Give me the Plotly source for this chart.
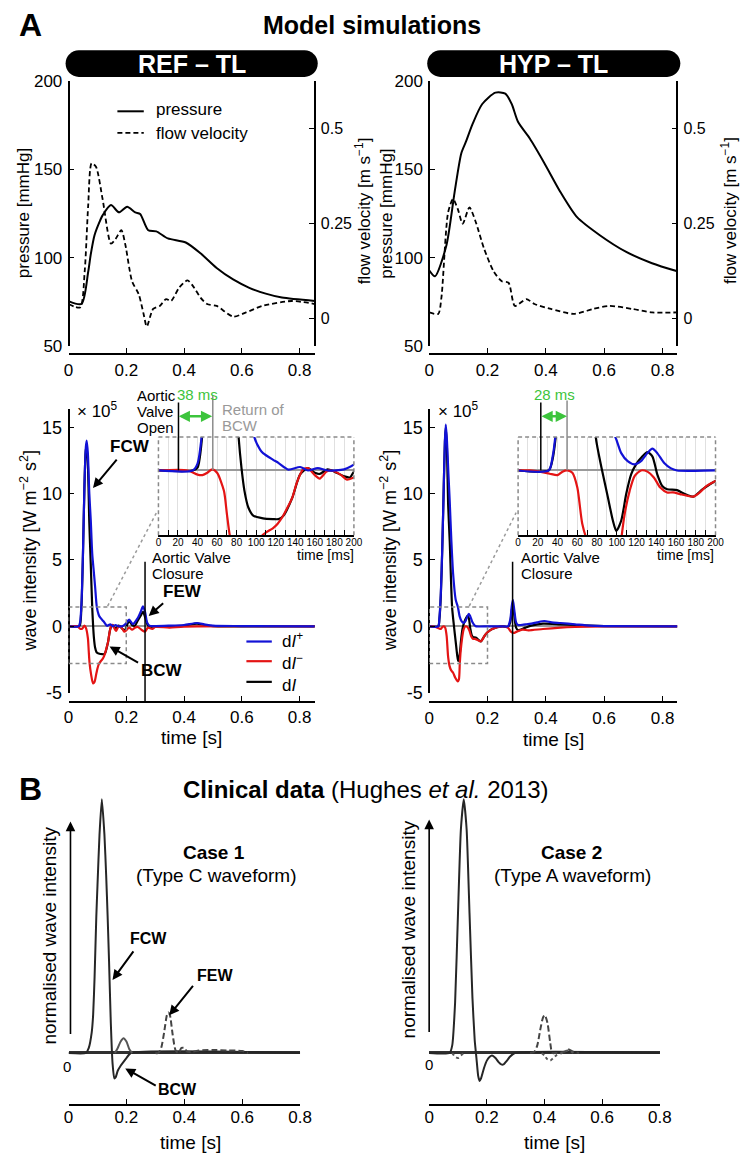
import plotly.graph_objects as go

W, H = 750, 1166
def px(x): return x / W
def py(y): return 1 - y / H

FONT = "Liberation Sans, Arial, Helvetica, sans-serif"
BLUE = "#1212d6"
RED = "#e41414"
BLACK = "#000000"
GREEN = "#3cc43c"
GRAY = "#999999"

# ---------------- Panel A, top: pressure / flow velocity ----------------
ref_p_t = [0, 0.045, 0.068, 0.077, 0.09, 0.107, 0.118, 0.147, 0.175, 0.203, 0.231, 0.248, 0.276, 0.304, 0.344, 0.406, 0.457, 0.513, 0.57, 0.626, 0.683, 0.739, 0.853]
ref_p = [75.6, 74, 92, 102, 112.8, 120.2, 124, 129.8, 125.7, 128.9, 125.7, 124.8, 115.6, 115, 111, 108.7, 102.6, 94.3, 87.8, 83.1, 79.8, 77.6, 75.7]
ref_v_t = [0, 0.04, 0.056, 0.068, 0.08, 0.095, 0.118, 0.147, 0.163, 0.183, 0.197, 0.22, 0.243, 0.26, 0.271, 0.293, 0.316, 0.338, 0.355, 0.383, 0.412, 0.435, 0.457, 0.48, 0.513, 0.57, 0.615, 0.671, 0.773, 0.853]
ref_v = [0.039, 0.03, 0.125, 0.297, 0.409, 0.40, 0.315, 0.198, 0.21, 0.233, 0.194, 0.099, 0.065, 0.013, -0.02, 0.026, 0.034, 0.052, 0.047, 0.082, 0.101, 0.082, 0.056, 0.039, 0.034, 0.006, 0.017, 0.034, 0.047, 0.039]

hyp_p_t = [0, 0.02, 0.059, 0.087, 0.11, 0.126, 0.149, 0.182, 0.227, 0.261, 0.283, 0.305, 0.345, 0.395, 0.451, 0.507, 0.585, 0.674, 0.764, 0.851]
hyp_p = [93, 89.6, 107, 136.9, 159, 165.6, 175.7, 186.9, 193.3, 192.8, 186.9, 176.7, 167.4, 153.5, 136.9, 123, 112.8, 103.5, 97, 92.4]
hyp_v_t = [0, 0.031, 0.042, 0.065, 0.082, 0.098, 0.115, 0.138, 0.16, 0.188, 0.221, 0.249, 0.272, 0.294, 0.333, 0.361, 0.417, 0.496, 0.562, 0.618, 0.697, 0.764, 0.851]
hyp_v = [0.017, 0.013, 0.056, 0.28, 0.315, 0.289, 0.25, 0.293, 0.254, 0.185, 0.125, 0.099, 0.095, 0.034, 0.052, 0.039, 0.026, 0.013, 0.026, 0.034, 0.026, 0.017, 0.017]

# ---------------- Panel A, wave intensity (x 10^5 W m^-2 s^2) ----------------
ref_dip_t = [0, 0.035, 0.04, 0.045, 0.05, 0.055, 0.06, 0.063, 0.067, 0.072, 0.077, 0.082, 0.088, 0.092, 0.098, 0.104, 0.107, 0.117, 0.123, 0.133, 0.145, 0.153, 0.163, 0.173, 0.19, 0.198, 0.21, 0.223, 0.239, 0.25, 0.258, 0.265, 0.272, 0.28, 0.3, 0.35, 0.4, 0.445, 0.47, 0.5, 0.6, 0.853]
ref_dip = [0, 0, 0.3, 1.8, 5.5, 10.5, 13.5, 14.0, 13.0, 10.0, 8.0, 5.5, 4.0, 3.0, 1.45, 0.9, 0.75, 0.47, 0.32, 0.04, 0.15, 0.0, 0.1, 0.0, 0.05, 0.2, 0.5, 0.17, 0.6, 1.1, 1.5, 1.1, 0.3, 0.05, 0.02, 0.05, 0.1, 0.25, 0.15, 0.05, 0.02, 0.0]
ref_dim_t = [0, 0.03, 0.04, 0.045, 0.05, 0.055, 0.06, 0.067, 0.07, 0.073, 0.078, 0.085, 0.09, 0.096, 0.1, 0.105, 0.111, 0.117, 0.122, 0.127, 0.132, 0.137, 0.141, 0.145, 0.148, 0.153, 0.16, 0.165, 0.172, 0.177, 0.187, 0.193, 0.2, 0.21, 0.22, 0.23, 0.24, 0.255, 0.265, 0.275, 0.29, 0.3, 0.35, 0.4, 0.853]
ref_dim = [0, 0, -0.18, -0.2, -0.1, 0.05, -0.1, -0.88, -1.86, -2.8, -3.6, -4.3, -4.2, -3.6, -3.2, -2.85, -2.65, -2.5, -2.3, -2.0, -1.6, -1.17, -0.6, -0.17, 0.05, 0.1, -0.2, -0.35, -0.05, 0.0, -0.2, -0.4, -0.3, -0.1, -0.25, -0.1, -0.05, -0.3, -0.4, -0.1, -0.2, -0.05, -0.1, -0.02, 0]
ref_di_t = [0, 0.035, 0.04, 0.045, 0.05, 0.055, 0.06, 0.063, 0.067, 0.072, 0.077, 0.082, 0.085, 0.088, 0.092, 0.097, 0.107, 0.117, 0.123, 0.128, 0.137, 0.145, 0.153, 0.16, 0.165, 0.173, 0.18, 0.19, 0.196, 0.2, 0.21, 0.22, 0.23, 0.24, 0.25, 0.258, 0.265, 0.272, 0.28, 0.3, 0.35, 0.4, 0.445, 0.47, 0.5, 0.853]
ref_di = [0, 0, 0.12, 1.6, 5.4, 10.4, 13.3, 13.5, 12.2, 7.8, 4.7, 1.45, 0.1, -0.88, -1.6, -1.95, -2.07, -2.1, -2.1, -1.95, -1.17, -0.17, 0.1, -0.1, -0.15, 0.05, -0.05, -0.25, -0.3, -0.05, 0.4, 0.1, 0.05, 0.45, 0.8, 1.1, 0.7, 0.2, -0.05, 0.0, 0.0, 0.05, 0.2, 0.1, 0.02, 0]

hyp_dip_t = [0, 0.031, 0.035, 0.04, 0.045, 0.05, 0.054, 0.057, 0.061, 0.066, 0.0705, 0.076, 0.082, 0.091, 0.0985, 0.1045, 0.111, 0.118, 0.1245, 0.131, 0.136, 0.141, 0.148, 0.1545, 0.161, 0.2, 0.25, 0.27, 0.278, 0.283, 0.287, 0.292, 0.298, 0.305, 0.33, 0.35, 0.37, 0.395, 0.42, 0.45, 0.5, 0.55, 0.6, 0.851]
hyp_dip = [0, 0, 0.6, 2.5, 6.0, 10.5, 14.0, 15.2, 14.0, 11.5, 9.4, 6.5, 4.0, 2.0, 1.45, 0.75, 0.4, 0.26, 0.4, 0.75, 0.94, 0.75, 0.32, 0.1, 0.0, 0.0, 0.0, 0.0, 0.5, 1.5, 2.0, 1.2, 0.3, 0.1, 0.15, 0.2, 0.3, 0.4, 0.3, 0.25, 0.15, 0.05, 0.02, 0]
hyp_dim_t = [0, 0.012, 0.022, 0.032, 0.04, 0.045, 0.05, 0.055, 0.06, 0.065, 0.07, 0.075, 0.082, 0.09, 0.098, 0.102, 0.105, 0.108, 0.113, 0.118, 0.1245, 0.131, 0.1375, 0.144, 0.151, 0.157, 0.164, 0.171, 0.1775, 0.184, 0.191, 0.2, 0.216, 0.25, 0.27, 0.28, 0.29, 0.3, 0.32, 0.34, 0.39, 0.45, 0.5, 0.6, 0.851]
hyp_dim = [0, 0, -0.05, -0.14, -0.2, -0.05, 0.0, -0.1, -0.74, -2.3, -3.0, -3.3, -3.5, -3.9, -4.15, -4.0, -2.8, -1.87, -0.88, -0.24, 0.0, -0.05, -0.3, -0.74, -0.95, -0.95, -1.02, -1.09, -1.13, -0.95, -0.67, -0.45, -0.2, 0.0, -0.1, -0.4, -0.5, -0.4, -0.25, -0.3, -0.2, -0.1, -0.05, 0, 0]
hyp_di_t = [0, 0.031, 0.035, 0.04, 0.045, 0.05, 0.054, 0.057, 0.061, 0.065, 0.0705, 0.0786, 0.0846, 0.091, 0.096, 0.0995, 0.1045, 0.1095, 0.1145, 0.1195, 0.126, 0.131, 0.136, 0.141, 0.146, 0.151, 0.161, 0.169, 0.1775, 0.187, 0.2, 0.216, 0.25, 0.27, 0.278, 0.283, 0.287, 0.292, 0.298, 0.305, 0.33, 0.35, 0.39, 0.45, 0.5, 0.55, 0.6, 0.851]
hyp_di = [0, 0, 0.5, 2.3, 5.9, 10.5, 13.9, 15.0, 13.4, 9.2, 6.4, 1.45, 0.1, -1.17, -2.16, -2.61, -2.16, -1.02, -0.17, 0.26, 0.61, 0.79, 0.61, -0.17, -0.67, -0.81, -0.85, -1.02, -1.13, -0.81, -0.45, -0.2, 0.0, -0.05, 0.3, 1.2, 1.6, 0.8, -0.1, -0.3, -0.1, 0.05, 0.2, 0.15, 0.1, 0.05, 0.02, 0]

# event times [s]
ref_avo, ref_bcw_return, ref_avc = 0.0205, 0.0556, 0.265
hyp_avo, hyp_bcw_return, hyp_avc = 0.023, 0.0496, 0.286

# inset ticks (ms)
inset_tick_ms = list(range(0, 201, 10))
inset_tick_vals = [m / 1000 for m in inset_tick_ms]
inset_tick_text = [str(m) if m % 20 == 0 else "" for m in inset_tick_ms]

# ---------------- Panel B: clinical data (normalised) ----------------
c1_sol_t = [0, 0.06, 0.07, 0.08, 0.085, 0.09, 0.096, 0.1, 0.107, 0.115, 0.124, 0.13, 0.135, 0.14, 0.146, 0.152, 0.158, 0.163, 0.17, 0.18, 0.19, 0.2, 0.215, 0.8]
c1_sol = [0, 0, 0.02, 0.08, 0.15, 0.3, 0.54, 0.66, 0.86, 1.0, 0.86, 0.7, 0.54, 0.36, 0.12, -0.04, -0.1, -0.095, -0.07, -0.05, -0.035, -0.02, 0, 0]
c1_bump_t = [0.16, 0.17, 0.18, 0.19, 0.2, 0.21, 0.22]
c1_bump = [0, 0.02, 0.045, 0.058, 0.045, 0.015, 0]
c1_dash_t = [0.3, 0.31, 0.32, 0.33, 0.34, 0.345, 0.35, 0.36, 0.37, 0.38, 0.39, 0.4, 0.41, 0.43, 0.45, 0.5, 0.55, 0.6, 0.62]
c1_dash = [0, 0.0, 0.02, 0.08, 0.15, 0.16, 0.15, 0.07, 0.01, 0, 0.02, 0.02, 0.005, 0.005, 0.01, 0.012, 0.01, 0.008, 0]

c2_sol_t = [0, 0.071, 0.08, 0.09, 0.1, 0.11, 0.12, 0.13, 0.14, 0.15, 0.158, 0.164, 0.17, 0.175, 0.18, 0.19, 0.2, 0.21, 0.218, 0.23, 0.24, 0.25, 0.258, 0.27, 0.28, 0.297, 0.8]
c2_sol = [0, 0, 0.03, 0.2, 0.55, 0.88, 1.0, 0.88, 0.55, 0.22, 0.05, -0.02, -0.09, -0.11, -0.1, -0.06, -0.03, -0.015, -0.01, -0.02, -0.035, -0.045, -0.045, -0.03, -0.015, 0, 0]
c2_dash_t = [0.35, 0.365, 0.375, 0.385, 0.395, 0.401, 0.41, 0.42, 0.427, 0.44, 0.47, 0.48, 0.5, 0.52]
c2_dash = [0, 0.005, 0.03, 0.09, 0.14, 0.149, 0.12, 0.04, 0.0, 0, 0.005, 0.015, 0.005, 0]
c2_dot_t = [0.08, 0.09, 0.1, 0.11, 0.12, None, 0.39, 0.4, 0.41, 0.42, 0.43, 0.44, 0.46, 0.48, 0.5]
c2_dot = [0, -0.015, -0.02, -0.01, 0, None, 0, -0.01, -0.025, -0.03, -0.02, -0.01, 0.0, 0.01, 0]

time_ticks = [0, 0.2, 0.4, 0.6, 0.8]
time_text = ["0", "0.2", "0.4", "0.6", "0.8"]

# ---------------- figure ----------------
fig = go.Figure()

def add_line(x, y, xa, ya, color, width=2.0, dash=None, smooth=0.7):
    fig.add_trace(go.Scatter(
        x=x, y=y, xaxis=xa, yaxis=ya, mode="lines", showlegend=False,
        hoverinfo="skip", connectgaps=False,
        line=dict(color=color, width=width, dash=dash, shape="spline", smoothing=smooth)))

# top
add_line(ref_p_t, ref_p, "x", "y", BLACK, 2)
add_line(ref_v_t, ref_v, "x", "y2", BLACK, 1.8, "5px,3px")
add_line(hyp_p_t, hyp_p, "x2", "y3", BLACK, 2)
add_line(hyp_v_t, hyp_v, "x2", "y4", BLACK, 1.8, "5px,3px")

# wave intensity main + inset
for xa, ya in (("x3", "y5"), ("x4", "y6")):
    add_line(ref_di_t, ref_di, xa, ya, BLACK, 2.2)
    add_line(ref_dim_t, ref_dim, xa, ya, RED, 2.2)
    add_line(ref_dip_t, ref_dip, xa, ya, BLUE, 2.2)
for xa, ya in (("x5", "y7"), ("x6", "y8")):
    add_line(hyp_di_t, hyp_di, xa, ya, BLACK, 2.2)
    add_line(hyp_dim_t, hyp_dim, xa, ya, RED, 2.2)
    add_line(hyp_dip_t, hyp_dip, xa, ya, BLUE, 2.2)

# clinical
CL = "#262626"
add_line(c1_sol_t, c1_sol, "x7", "y9", CL, 2, None, 0.5)
add_line(c1_bump_t, c1_bump, "x7", "y9", "#555555", 2)
add_line(c1_dash_t, c1_dash, "x7", "y9", "#444444", 2, "6px,3px")
add_line(c2_sol_t, c2_sol, "x8", "y10", CL, 2, None, 0.5)
add_line(c2_dash_t, c2_dash, "x8", "y10", "#444444", 2, "6px,3px")
add_line(c2_dot_t, c2_dot, "x8", "y10", "#555555", 2, "dot")

def xstyle(size=17, standoff=1):
    return dict(showline=True, linecolor="black", linewidth=1.6, ticks="inside",
                ticklen=5, tickwidth=1.4, tickcolor="black", showgrid=False,
                zeroline=False, tickvals=time_ticks, ticktext=time_text, tickangle=0,
                tickfont=dict(family=FONT, size=size, color="black"),
                ticklabelstandoff=standoff)

def ystyle(size=17):
    return dict(showline=True, linecolor="black", linewidth=1.6, ticks="inside",
                ticklen=5, tickwidth=1.4, tickcolor="black", showgrid=False,
                zeroline=False, tickfont=dict(family=FONT, size=size, color="black"),
                ticklabelstandoff=2)

def inset_x(domain, anchor):
    return dict(domain=domain, range=[0, 0.2], anchor=anchor, showline=True,
                linecolor="black", linewidth=1.6, ticks="inside", ticklen=5,
                tickwidth=1.4, tickcolor="black", tickvals=inset_tick_vals,
                ticktext=inset_tick_text, tickangle=0, showgrid=True, gridcolor="#e0e0e0",
                gridwidth=1.4, zeroline=False,
                tickfont=dict(family=FONT, size=10, color="black"), ticklabelstandoff=-3)

def inset_y(domain, anchor):
    return dict(domain=domain, range=[-2.8, 1.45], anchor=anchor, showline=False,
                showticklabels=False, ticks="", showgrid=False, zeroline=True,
                zerolinecolor="#9a9a9a", zerolinewidth=2)

def hidden_y(domain, pos):
    return dict(domain=domain, range=[-0.15, 1.09], anchor="free", position=pos,
                showline=False, showticklabels=False, ticks="", showgrid=False,
                zeroline=True, zerolinecolor="#303030", zerolinewidth=3)

wi_ticks = [-5, 0, 5, 10, 15]
wi_text = ["-5", "0", "5", "10", "15"]

top_dom_y = [py(343), py(73)]
mid_dom_y = [py(695), py(407)]

layout = dict(
    width=W, height=H, margin=dict(l=0, r=0, t=0, b=0),
    paper_bgcolor="white", plot_bgcolor="rgba(0,0,0,0)",
    font=dict(family=FONT, color="black"), showlegend=False,
    # top-left
    xaxis=dict(domain=[px(65), px(317)], range=[0, 0.853], anchor="free", position=py(351), **xstyle(17, 1)),
    yaxis=dict(domain=top_dom_y, range=[50, 200], anchor="free", position=px(65),
               tickvals=[50, 100, 150, 200], **ystyle(17)),
    yaxis2=dict(overlaying="y", side="right", anchor="free", position=px(317),
                range=[-0.0724, 0.6258], tickvals=[0, 0.25, 0.5], ticktext=["0", "0.25", "0.5"],
                **ystyle(16)),
    # top-right
    xaxis2=dict(domain=[px(434), px(688)], range=[0, 0.851], anchor="free", position=py(351), **xstyle(17, 1)),
    yaxis3=dict(domain=top_dom_y, range=[50, 200], anchor="free", position=px(434),
                tickvals=[50, 100, 150, 200], **ystyle(17)),
    yaxis4=dict(overlaying="y3", side="right", anchor="free", position=px(688),
                range=[-0.0724, 0.6258], tickvals=[0, 0.25, 0.5], ticktext=["0", "0.25", "0.5"],
                **ystyle(16)),
    # mid-left
    xaxis3=dict(domain=[px(65), px(317)], range=[0, 0.853], anchor="free", position=py(704), **xstyle(17, 0)),
    yaxis5=dict(domain=mid_dom_y, range=[-5, 16.35], anchor="free", position=px(65),
                **{**ystyle(18), "tickvals": wi_ticks, "ticktext": wi_text,
                   "zeroline": True, "zerolinecolor": "#9a9a9a", "zerolinewidth": 2}),
    xaxis4=inset_x([px(157), px(357)], "y6"),
    yaxis6=inset_y([py(535), py(435)], "x4"),
    # mid-right
    xaxis5=dict(domain=[px(434), px(688)], range=[0, 0.851], anchor="free", position=py(704), **xstyle(17, 1)),
    yaxis7=dict(domain=mid_dom_y, range=[-5, 16.35], anchor="free", position=px(434),
                **{**ystyle(18), "tickvals": wi_ticks, "ticktext": wi_text,
                   "zeroline": True, "zerolinecolor": "#9a9a9a", "zerolinewidth": 2}),
    xaxis6=inset_x([px(525), px(727)], "y8"),
    yaxis8=inset_y([py(535), py(435)], "x6"),
    # clinical
    xaxis7=dict(domain=[px(65), px(302)], range=[0, 0.8], anchor="free", position=py(1114), **xstyle(17, -3)),
    yaxis9=hidden_y([py(1100), py(780)], px(65)),
    xaxis8=dict(domain=[px(434), px(670)], range=[0, 0.8], anchor="free", position=py(1114), **xstyle(17, -3)),
    yaxis10=hidden_y([py(1100), py(780)], px(434)),
)
fig.update_layout(**layout)

# ---------------- shapes ----------------
shapes = []

def pill(x0, y0, x1, y1):
    r = (y1 - y0) / 2.0
    k = 0.5523 * r
    cy = (y0 + y1) / 2.0
    P = lambda x, y: f"{px(x):.5f},{py(y):.5f}"
    return (f"M {P(x0 + r, y0)} L {P(x1 - r, y0)} "
            f"C {P(x1 - r + k, y0)} {P(x1, cy - k)} {P(x1, cy)} "
            f"C {P(x1, cy + k)} {P(x1 - r + k, y1)} {P(x1 - r, y1)} "
            f"L {P(x0 + r, y1)} "
            f"C {P(x0 + r - k, y1)} {P(x0, cy + k)} {P(x0, cy)} "
            f"C {P(x0, cy - k)} {P(x0 + r - k, y0)} {P(x0 + r, y0)} Z")

for x0, x1 in ((62, 320), (432, 691)):
    shapes.append(dict(type="path", path=pill(x0, 42, x1, 69), xref="paper", yref="paper",
                       fillcolor="black", line=dict(color="black", width=0)))

def pline(x0, y0, x1, y1, color="black", width=1.5, dash=None):
    shapes.append(dict(type="line", xref="paper", yref="paper", x0=px(x0), y0=py(y0),
                       x1=px(x1), y1=py(y1), line=dict(color=color, width=width, dash=dash)))

# top legend samples
pline(115, 104, 142, 104, "black", 2)
pline(115, 126, 142, 126, "black", 1.8, "5px,3px")

# zoom boxes in main plots
for xa, ya in (("x3", "y5"), ("x5", "y7")):
    shapes.append(dict(type="rect", xref=xa, yref=ya, x0=0, x1=0.2, y0=-2.8, y1=1.45,
                       line=dict(color="#8a8a8a", width=1.5, dash="4px,3px"), layer="above"))

# inset frames (dashed left/top/right)
for xa, ya in (("x4", "y6"), ("x6", "y8")):
    for (a, b, c, d) in ((0, 0, 0, 1), (0, 1, 1, 1), (1, 0, 1, 1)):
        shapes.append(dict(type="line", xref=xa + " domain", yref=ya + " domain",
                           x0=a, y0=b, x1=c, y1=d,
                           line=dict(color="#8a8a8a", width=1.5, dash="4px,3px")))

# dotted connectors
pline(105, 607, 155, 512, "#9a9a9a", 1.5, "dot")
pline(475, 607, 523, 512, "#9a9a9a", 1.5, "dot")

# valve event lines
def vline(xa, t, ytop, ybot, color="black", width=1.5):
    shapes.append(dict(type="line", xref=xa, yref="paper", x0=t, x1=t,
                       y0=py(ybot), y1=py(ytop), line=dict(color=color, width=width)))

vline("x3", ref_avc, 562, 704)
vline("x5", hyp_avc, 562, 704)
vline("x4", ref_avo, 400, 469)
vline("x4", ref_bcw_return, 393, 469, "#8c8c8c")
vline("x6", hyp_avo, 400, 469)
vline("x6", hyp_bcw_return, 398, 469, "#8c8c8c")

# wave-intensity legend
pline(247, 643, 273, 643, BLUE, 2.2)
pline(247, 663, 273, 663, RED, 2.2)
pline(247, 684, 273, 684, BLACK, 2.2)

fig.update_layout(shapes=shapes)

# ---------------- annotations ----------------
ann = []

def txt(x, y, text, size, color="black", xanchor="center", yanchor="middle", angle=0, align="center"):
    ann.append(dict(x=px(x), y=py(y), xref="paper", yref="paper", text=text, showarrow=False,
                    font=dict(family=FONT, size=size, color=color), xanchor=xanchor,
                    yanchor=yanchor, textangle=angle, align=align))

def arrow(hx, hy, tx, ty, color="black", width=2, side="end", head=2, size=1.0):
    ann.append(dict(x=px(hx), y=py(hy), ax=tx - hx, ay=ty - hy, xref="paper", yref="paper",
                    axref="pixel", ayref="pixel", text="", showarrow=True, arrowhead=head,
                    startarrowhead=head, arrowside=side, arrowwidth=width, arrowcolor=color,
                    arrowsize=size, startarrowsize=size, standoff=0, startstandoff=0))

txt(12, 16, "<b>A</b>", 32, xanchor="left")
txt(375, 16, "<b>Model simulations</b>", 25)
txt(191, 56, "<b>REF \u2013 TL</b>", 25, "white")
txt(561, 56, "<b>HYP \u2013 TL</b>", 25, "white")
txt(152, 102, "pressure", 17, xanchor="left")
txt(152, 127, "flow velocity", 17, xanchor="left")

# axis titles
txt(19, 208, "pressure [mmHg]", 17, angle=-90)
txt(390, 208, "pressure [mmHg]", 17, angle=-90)
txt(366, 205, "flow velocity [m s<sup>\u22121</sup>]", 17, angle=-90)
txt(740, 205, "flow velocity [m s<sup>\u22121</sup>]", 17, angle=-90)
txt(24, 551, "wave intensity [W m<sup>\u22122</sup> s<sup>2</sup>]", 18, angle=-90)
txt(392, 551, "wave intensity [W m<sup>\u22122</sup> s<sup>2</sup>]", 18, angle=-90)
txt(191, 741, "time [s]", 19)
txt(561, 743, "time [s]", 19)
txt(190, 1152, "time [s]", 19)
txt(562, 1152, "time [s]", 19)

txt(72, 408, "\u00d7 10<sup>5</sup>", 17, xanchor="left")
txt(441, 408, "\u00d7 10<sup>5</sup>", 17, xanchor="left")

txt(133, 393, "Aortic", 15, xanchor="left")
txt(133, 409, "Valve", 15, xanchor="left")
txt(133, 425, "Open", 15, xanchor="left")
txt(197, 392, "38 ms", 15, GREEN)
txt(220, 407, "Return of", 15, GRAY, xanchor="left")
txt(220, 423, "BCW", 15, GRAY, xanchor="left")
txt(562, 392, "28 ms", 15, GREEN)
arrow(212, 414, 177, 414, GREEN, 2.5, "end+start", 2, 0.9)
arrow(575, 414, 548, 414, GREEN, 2.5, "end+start", 2, 0.9)

txt(359, 555, "time [ms]", 14, xanchor="right")
txt(728, 555, "time [ms]", 14, xanchor="right")

txt(148, 558, "Aortic Valve", 15, xanchor="left")
txt(148, 574, "Closure", 15, xanchor="left")
txt(526, 558, "Aortic Valve", 15, xanchor="left")
txt(526, 574, "Closure", 15, xanchor="left")

txt(128, 445, "<b>FCW</b>", 17)
arrow(90, 487, 115, 457)
txt(182, 592, "<b>FEW</b>", 17)
arrow(147, 617, 163, 603)
txt(161, 672, "<b>BCW</b>", 17)
arrow(107, 648, 137, 665)

txt(281, 664, "d<i>I</i><sup>+</sup><br>d<i>I</i><sup>\u2212</sup><br>d<i>I</i>", 17,
    xanchor="left", align="left")

# panel B
txt(12, 793, "<b>B</b>", 32, xanchor="left")
txt(369, 793, "<b>Clinical data</b> (Hughes <i>et al.</i> 2013)", 24)
txt(214, 857, "<b>Case 1</b>", 19)
txt(216, 881, "(Type C waveform)", 19)
txt(580, 857, "<b>Case 2</b>", 19)
txt(581, 881, "(Type A waveform)", 19)
txt(46, 942, "normalised wave intensity", 19, angle=-90)
txt(413, 936, "normalised wave intensity", 19, angle=-90)
arrow(67, 826, 67, 1040, "black", 1.6, "end", 2, 1.2)
arrow(434, 824, 434, 1038, "black", 1.6, "end", 2, 1.2)
txt(63, 1075, "0", 15)
txt(434, 1073, "0", 15)
txt(147, 945, "<b>FCW</b>", 16)
arrow(110, 987, 132, 957)
txt(215, 983, "<b>FEW</b>", 16)
arrow(168, 1023, 193, 992)
txt(177, 1098, "<b>BCW</b>", 16)
arrow(123, 1077, 155, 1095)

fig.update_layout(annotations=ann)

fig.write_html("out.html", config={"displayModeBar": False},
               post_script="document.body.style.margin='0';document.body.style.overflow='hidden';")
